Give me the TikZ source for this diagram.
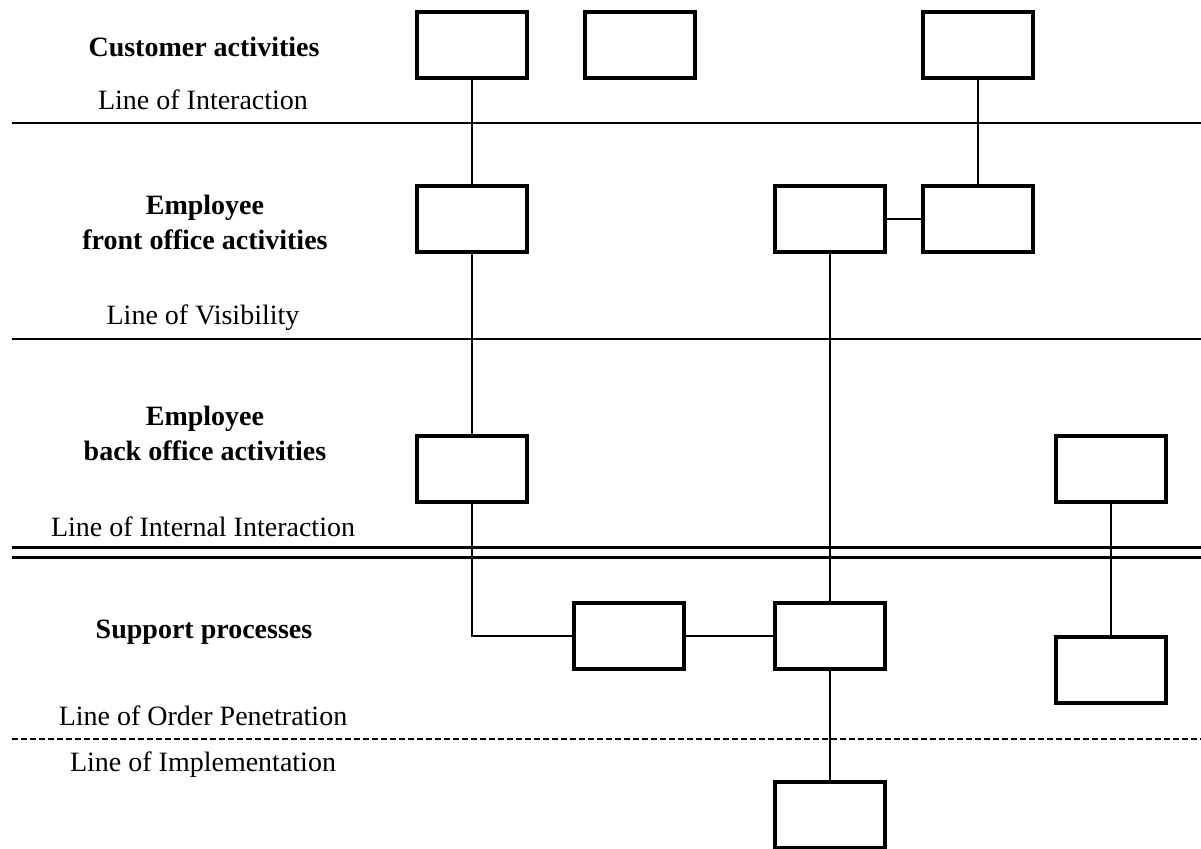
\documentclass[tikz,border=0pt]{standalone}
\usepackage{fontspec}
\setmainfont{Liberation Serif}
\begin{document}
\begin{tikzpicture}[x=0.5pt,y=-0.5pt,
  box/.style={draw, line width=1.6pt, minimum width=55pt, minimum height=33pt, inner sep=0pt},
  link/.style={line width=1.3pt},
  border/.style={line width=1.4pt},
  lbl/.style={font=\fontsize{14}{17.5}\selectfont, align=center, inner sep=0pt},
  head/.style={lbl, font=\fontsize{14}{17.5}\selectfont\bfseries}]
\useasboundingbox (0,0) rectangle (1201,848);

% activity boxes
\node[box] (c1) at (472,45) {};
\node[box] (c2) at (640,45) {};
\node[box] (c3) at (978,45) {};
\node[box] (f1) at (472,219) {};
\node[box] (f2) at (830,219) {};
\node[box] (f3) at (978,219) {};
\node[box] (b1) at (472,469) {};
\node[box] (b2) at (1111,469) {};
\node[box] (s1) at (629,636) {};
\node[box] (s2) at (830,636) {};
\node[box] (s3) at (1111,670) {};
\node[box] (i1) at (830,815) {};

% separating lines
\draw[border] (12,123) -- (1201,123);
\draw[border] (12,339) -- (1201,339);
\draw[border] (12,547.5) -- (1201,547.5);
\draw[border] (12,557.5) -- (1201,557.5);
\draw[line width=1.1pt, dash pattern=on 3pt off 1.5pt] (12,739) -- (1201,739);

% connectors
\draw[link] (c1) -- (f1);
\draw[link] (f1) -- (b1);
\draw[link] (c3) -- (f3);
\draw[link] (f2) -- (f3);
\draw[link] (f2) -- (s2);
\draw[link] (b1.south) |- (s1.west);
\draw[link] (s1) -- (s2);
\draw[link] (s2) -- (i1);
\draw[link] (b2) -- (s3);

% row and line labels
\node[head] (tc) at (204,47) {Customer activities};
\node[lbl] (tli) at (203,100) {Line of Interaction};
\node[head] (tf) at (205,222) {Employee\\front office activities};
\node[lbl] (tlv) at (203,318) {Line of Visibility};
\node[head] (tb) at (205,433) {Employee\\back office activities};
\node[lbl] (tlii) at (203,527) {Line of Internal Interaction};
\node[head] (ts) at (204,632) {Support processes};
\node[lbl] (tlo) at (203,716) {Line of Order Penetration};
\node[lbl] (tlm) at (203,765) {Line of Implementation};
\end{tikzpicture}
\end{document}
